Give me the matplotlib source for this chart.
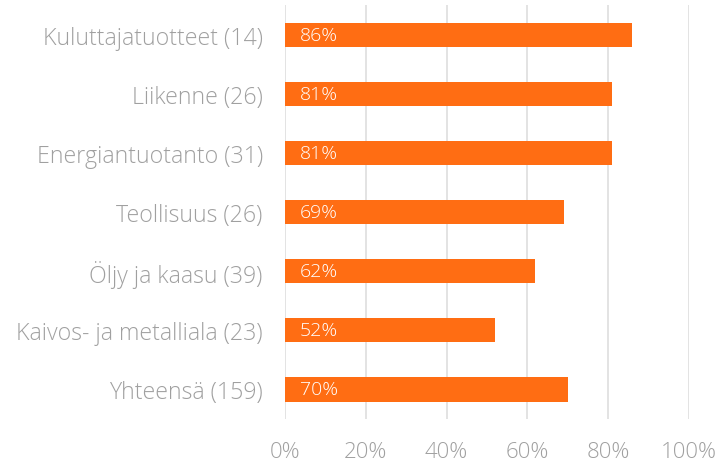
import matplotlib
matplotlib.use("Agg")
import matplotlib.pyplot as plt
from matplotlib.ticker import FuncFormatter

categories = ["Kuluttajatuotteet (14)", "Liikenne (26)", "Energiantuotanto (31)",
              "Teollisuus (26)", "Öljy ja kaasu (39)", "Kaivos- ja metalliala (23)",
              "Yhteensä (159)"]
values = [86, 81, 81, 69, 62, 52, 70]
xticks = [0, 20, 40, 60, 80, 100]

plt.rcParams['font.family'] = ['Open Sans', 'DejaVu Sans']
gray = "#A0A0A0"
orange = "#FF6D13"

fig = plt.figure(figsize=(7.19, 4.64), dpi=100)
ax = fig.add_axes([0.3964, 0.0948, 0.5619, 0.892])

ypos = list(range(len(categories)))
ax.barh(ypos, values, height=0.41, color=orange, zorder=3)
for y, v in zip(ypos, values):
    ax.text(3.6, y, f"{v}%", color="white", fontsize=14, va="center", ha="left",
            fontweight="light", zorder=4)

ax.set_ylim(len(categories) - 0.5, -0.5)
ax.set_xlim(0, 100)
ax.set_yticks(ypos)
ax.set_yticklabels(categories)
ax.set_xticks(xticks)
ax.xaxis.set_major_formatter(FuncFormatter(lambda x, p: f"{int(x)}%"))
ax.tick_params(axis="y", length=0, colors=gray, labelsize=16.7, pad=16)
ax.tick_params(axis="x", length=0, colors=gray, labelsize=16, pad=16)
for lab in ax.get_xticklabels() + ax.get_yticklabels():
    lab.set_fontweight("light")
ax.grid(axis="x", color="#E3E3E3", linewidth=1.4, zorder=0)
for s in ax.spines.values():
    s.set_visible(False)

fig.savefig("out.png", dpi=100)
